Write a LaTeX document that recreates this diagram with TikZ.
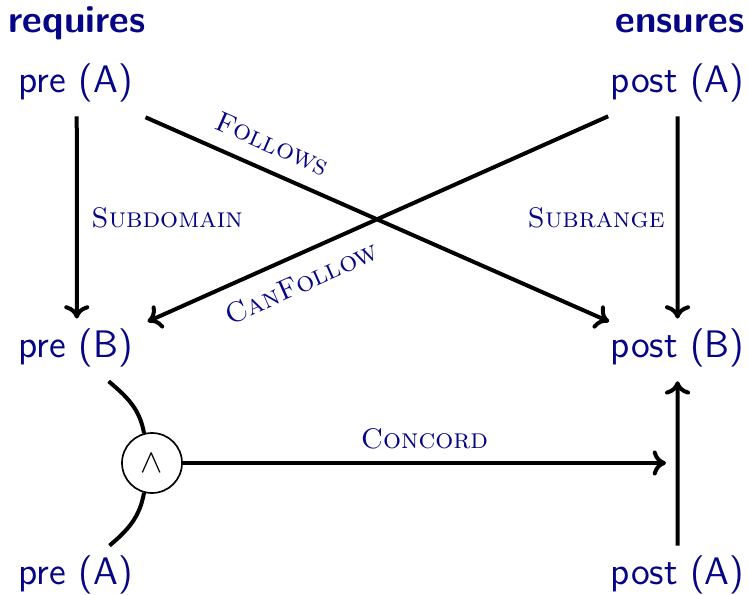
\documentclass[tikz,border=0pt]{standalone}
\usetikzlibrary{arrows.meta}
\definecolor{navyblue}{rgb}{0.02,0.02,0.52}
\tikzset{
  txt/.style={inner sep=0pt, text=navyblue, font=\fontsize{11.5}{13}\sffamily},
  hdr/.style={inner sep=0pt, text=navyblue, font=\fontsize{11.5}{13}\sffamily\bfseries},
  lab/.style={text=navyblue, font=\fontsize{8.5}{10}\rmfamily\scshape, inner sep=2pt},
  conn/.style={line width=1.2pt, black},
  arr/.style={conn, -{To[length=4pt,width=7.5pt]}},
  andnode/.style={circle, draw, line width=0.5pt, minimum size=18pt, inner sep=0pt, fill=white}
}
\begin{document}
\begin{tikzpicture}[x=0.3pt,y=-0.3pt]
\useasboundingbox (0,0) rectangle (748,595);
\node[hdr, anchor=base west] (req) at (8,33) {requires};
\node[hdr, anchor=base east] (ens) at (745,33) {ensures};
\node[txt, anchor=base west] (preA) at (18,93) {pre (A)};
\node[txt, anchor=base east] (postA) at (745,93) {post (A)};
\node[txt, anchor=base west] (preB) at (18,358) {pre (B)};
\node[txt, anchor=base east] (postB) at (745,358) {post (B)};
\node[txt, anchor=base west] (preA2) at (18,585) {pre (A)};
\node[txt, anchor=base east] (postA2) at (745,585) {post (A)};
\node[andnode] (and) at (152,463) {$\wedge$};
\coordinate (concEnd) at (666,463);

\draw[arr] ([shift={(1,13)}]preA.south) -- node[lab, right, xshift=1.8pt] {Subdomain} ([shift={(1,-10)}]preB.north);
\draw[arr] ([shift={(0,13)}]postA.south) -- node[lab, left, xshift=-1.3pt] {Subrange} ([shift={(0,-10)}]postB.north);
\draw[arr] ([shift={(12,14)}]preA.south east) -- node[lab, pos=0.25, sloped, above, yshift=2.5pt] {Follows} ([shift={(-1,-7)}]postB.north west);
\draw[arr, {To[length=4pt,width=7.5pt]}-] ([shift={(14,-7)}]preB.north east) -- node[lab, pos=0.31, sloped, below, yshift=-2.5pt] {CanFollow} ([shift={(-2,13)}]postA.south west);
\draw[conn] ([shift={(-25,13)}]preB.south east) to[out=-40, in=100] (and.105);
\draw[conn] (and.255) to[out=-100, in=40] ([shift={(-24,-10)}]preA2.north east);
\draw[arr] (and.east) -- node[lab, above, yshift=1.5pt] {Concord} (concEnd);
\draw[arr] ([shift={(0,-10)}]postA2.north) -- ([shift={(0,13)}]postB.south);
\end{tikzpicture}
\end{document}
